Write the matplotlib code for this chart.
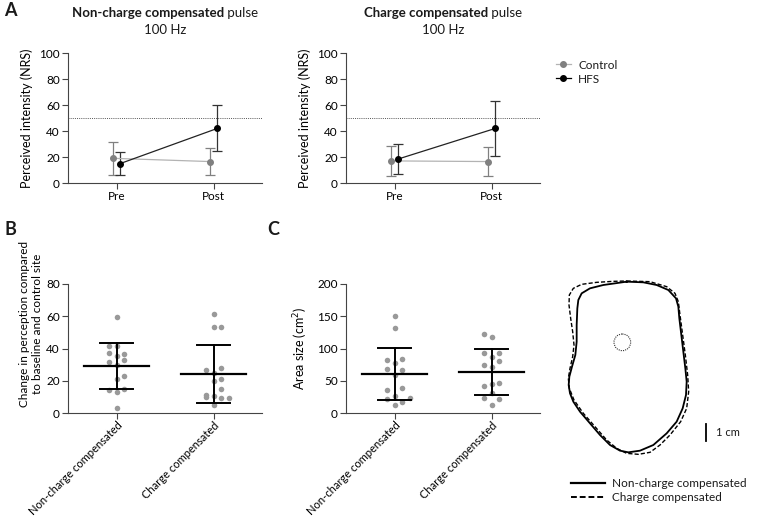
import matplotlib
matplotlib.use('Agg')
import matplotlib.pyplot as plt
from matplotlib.lines import Line2D
from matplotlib.patches import Circle

plt.rcParams['font.family'] = ['Lato', 'DejaVu Sans']
plt.rcParams['font.size'] = 8
plt.rcParams['text.color'] = '#1a1a1a'

# ---- data ----
timepoints = ['Pre', 'Post']
# panel A, mean and SD per timepoint
nc_control_mean = [19, 16.5]
nc_control_sd = [12.5, 10.5]
nc_hfs_mean = [15, 42]
nc_hfs_sd = [8.7, 17.7]
cc_control_mean = [17, 16.5]
cc_control_sd = [11.5, 11]
cc_hfs_mean = [18.5, 42]
cc_hfs_sd = [11.3, 21.3]
threshold = 50

groups = ['Non-charge compensated', 'Charge compensated']
# panel B, change in perception
b_nc = [59.3, 41.5, 41.5, 37.4, 36.6, 35.3, 32.9, 31.4, 29.8, 22.9, 21.3, 14.3, 14.7, 13, 3.1]
b_nc_offset = [0, -1, 0, -1, 1, 0, 1, -1, 0, 1, 0, -1, 1, 0, 0]
b_cc = [61.4, 53.1, 53.1, 26.7, 28.1, 24.6, 21.3, 19.8, 14.7, 11.2, 9.7, 10.5, 9.5, 9.5, 4.8]
b_cc_offset = [0, 0, 1, -1, 1, 0, 1, 0, 1, -1, -1, 0, 1, 2, 0]
b_mean = [29, 24]
b_sd = [14.2, 18]
# panel C, area size
c_nc = [150.4, 131.3, 82.2, 77, 84.2, 68.2, 67.2, 58.9, 38.8, 35.7, 26.9, 22.2, 23.3, 16.5, 12.9]
c_nc_offset = [0, 0, -1, 0, 1, -1, 1, 0, 1, -1, 0, -1, 2, 1, 0]
c_cc = [122, 118.3, 92.5, 86.3, 92.5, 73.9, 70.8, 80.6, 41.9, 45, 46, 31.5, 23.3, 21.2, 11.9]
c_cc_offset = [-1, 0, -1, 0, 1, -1, 0, 1, -1, 0, 1, 0, -1, 1, 0]
c_mean = [60, 63.8]
c_sd = [40.6, 35.4]

# traced area outlines (drawing units, 51 units = 1 cm)
solid_x = [200, 250, 290, 325, 348, 355, 358, 364, 370, 376, 380, 378, 368, 350, 320, 280, 240, 205,
           180, 150, 120, 90, 60, 40, 30, 26, 28, 36, 46, 50, 50, 52, 55, 65, 90, 130, 200]
solid_y = [20, 22, 30, 45, 70, 95, 130, 180, 230, 280, 320, 360, 400, 440, 475, 510, 527, 532,
           527, 510, 480, 445, 410, 380, 355, 330, 305, 275, 240, 200, 150, 100, 75, 55, 40, 30, 20]
dashed_x = [200, 270, 320, 345, 355, 360, 368, 376, 383, 386, 380, 362, 330, 300, 270, 235, 200, 170,
            140, 105, 70, 42, 28, 25, 30, 38, 42, 38, 32, 27, 28, 40, 65, 110, 160, 200]
dashed_y = [18, 20, 35, 55, 80, 120, 180, 240, 300, 350, 400, 440, 480, 510, 532, 538, 535, 520,
            495, 455, 415, 375, 340, 310, 280, 245, 210, 170, 130, 90, 60, 40, 28, 22, 19, 18]
site_center = (187, 202)
site_radius = 25

CTRL = '#808080'
CTRL_LINE = '#b3b3b3'
DOT = '#999999'
AX = '#444444'

fig = plt.figure(figsize=(7.6, 5.22), dpi=100)


def px_axes(x0, x1, y0, y1):
    return fig.add_axes([x0 / 760, 1 - y1 / 522, (x1 - x0) / 760, (y1 - y0) / 522])


def style(ax):
    for s in ['top', 'right']:
        ax.spines[s].set_visible(False)
    for s in ['left', 'bottom']:
        ax.spines[s].set_color(AX)
        ax.spines[s].set_linewidth(0.8)
    ax.tick_params(direction='out', length=4, width=0.8, color=AX, labelsize=8.5, pad=2)


def panel_a(ax, ctrl_m, ctrl_sd, hfs_m, hfs_sd):
    style(ax)
    pos = range(len(timepoints))
    xc = [p - 0.04 for p in pos]
    xh = [p + 0.04 for p in pos]
    ax.axhline(threshold, color='#555555', ls=(0, (1, 1.2)), lw=0.7)
    ax.errorbar(xc, ctrl_m, yerr=ctrl_sd, color=CTRL_LINE, ecolor=CTRL, mfc=CTRL, mec=CTRL,
                marker='o', ms=4, lw=0.9, elinewidth=0.9, capsize=3.3, capthick=0.9)
    ax.errorbar(xh, hfs_m, yerr=hfs_sd, color='#222222', ecolor='#333333', mfc='black', mec='black',
                marker='o', ms=4, lw=0.9, elinewidth=0.9, capsize=3.3, capthick=0.9)
    ax.set_xlim(-0.5, 1.5)
    ax.set_ylim(0, 100)
    ax.set_yticks([0, 20, 40, 60, 80, 100])
    ax.set_xticks(list(pos))
    ax.set_xticklabels(timepoints)
    ax.set_ylabel('Perceived intensity (NRS)', fontsize=9)
    ax.yaxis.set_label_coords(-0.18, 0.5)


def panel_dots(ax, vals, offs, means, sds):
    style(ax)
    for i in range(2):
        xs = [i + 0.08 * o for o in offs[i]]
        ax.scatter(xs, vals[i], s=16, color=DOT, lw=0, zorder=2)
        ax.plot([i - 0.34, i + 0.34], [means[i], means[i]], color='black', lw=1.6, zorder=3)
        ax.plot([i, i], [means[i] - sds[i], means[i] + sds[i]], color='black', lw=1.4, zorder=3)
        for v in [means[i] - sds[i], means[i] + sds[i]]:
            ax.plot([i - 0.17, i + 0.17], [v, v], color='black', lw=1.4, zorder=3)
    ax.set_xlim(-0.5, 1.5)
    ax.set_xticks([0, 1])
    ax.set_xticklabels(groups, rotation=45, ha='right', rotation_mode='anchor', fontsize=8)
    ax.tick_params(axis='x', pad=1)


# ---- panel A ----
axA1 = px_axes(68, 262, 53, 183)
panel_a(axA1, nc_control_mean, nc_control_sd, nc_hfs_mean, nc_hfs_sd)
axA2 = px_axes(346, 540, 53, 183)
panel_a(axA2, cc_control_mean, cc_control_sd, cc_hfs_mean, cc_hfs_sd)

handles = [Line2D([], [], color=CTRL_LINE, marker='o', mfc=CTRL, mec=CTRL, ms=4, lw=0.9),
           Line2D([], [], color='black', marker='o', ms=4, lw=0.9)]
fig.legend(handles, ['Control', 'HFS'], loc='upper left', bbox_to_anchor=(545 / 760, 1 - 49 / 522),
           frameon=False, fontsize=8.5, handlelength=1.3, handletextpad=0.6, labelspacing=0.25)

# two-part titles, bold + regular, centred over each axis
fig.canvas.draw()
rend = fig.canvas.get_renderer()
for ax, bold in [(axA1, 'Non-charge compensated'), (axA2, 'Charge compensated')]:
    cx = (ax.get_position().x0 + ax.get_position().x1) / 2
    t1 = fig.text(0, 1 - 13 / 522, bold, fontweight='bold', fontsize=9.5, va='center', ha='left')
    t2 = fig.text(0, 1 - 13 / 522, ' pulse', fontsize=9.5, va='center', ha='left')
    w1 = t1.get_window_extent(rend).width / 760
    w2 = t2.get_window_extent(rend).width / 760
    t1.set_x(cx - (w1 + w2) / 2)
    t2.set_x(cx - (w1 + w2) / 2 + w1)
    fig.text(cx, 1 - 30 / 522, '100 Hz', fontsize=9.5, va='center', ha='center')

# ---- panel B ----
axB = px_axes(68, 262, 284, 413)
panel_dots(axB, [b_nc, b_cc], [b_nc_offset, b_cc_offset], b_mean, b_sd)
axB.set_ylim(0, 80)
axB.set_yticks([0, 20, 40, 60, 80])
axB.set_ylabel('Change in perception compared\nto baseline and control site', fontsize=8.5, linespacing=1.15)
axB.yaxis.set_label_coords(-0.13, 0.69)

# ---- panel C ----
axC = px_axes(346, 540, 284, 413)
panel_dots(axC, [c_nc, c_cc], [c_nc_offset, c_cc_offset], c_mean, c_sd)
axC.set_ylim(0, 200)
axC.set_yticks([0, 50, 100, 150, 200])
axC.set_ylabel('Area size (cm$^2$)', fontsize=9)
axC.yaxis.set_label_coords(-0.185, 0.5)

# ---- area outlines ----
axS = px_axes(550, 760, 270, 515)
axS.set_xlim(-30, 600)
axS.set_ylim(720, -15)
axS.axis('off')
axS.plot(solid_x, solid_y, color='black', lw=1.3, solid_joinstyle='round')
axS.plot(dashed_x, dashed_y, color='black', lw=1.0, ls=(0, (3, 1.5)))
axS.add_patch(Circle(site_center, site_radius, fill=False, ls=(0, (1, 1)), lw=0.8, color='#333333'))
axS.plot([438, 438], [447, 498], color='black', lw=1.3)
axS.text(468, 472, '1 cm', fontsize=8, va='center', ha='left')
lh = [Line2D([], [], color='black', lw=1.6), Line2D([], [], color='black', lw=1.4, ls=(0, (3, 1.5)))]
axS.legend(lh, groups, loc='upper left', bbox_to_anchor=(16 / 210, 1 - 203 / 245), frameon=False,
           fontsize=8.5, handlelength=2.9, handletextpad=0.6, labelspacing=0.3, borderaxespad=0)

# panel letters
for lab, x, y in [('A', 4, 10), ('B', 4, 230), ('C', 267, 230)]:
    fig.text(x / 760, 1 - y / 522, lab, fontsize=13, fontweight='bold', va='center', ha='left')

fig.savefig('out.png', dpi=100)
